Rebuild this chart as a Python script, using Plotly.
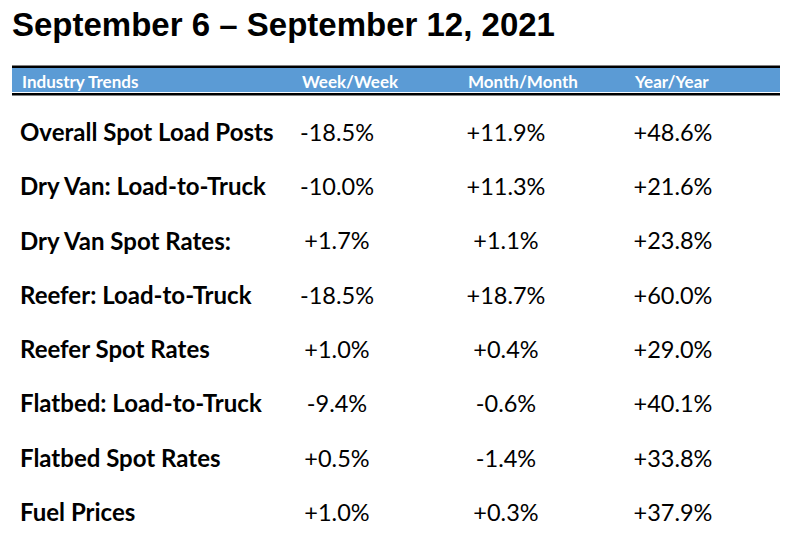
import plotly.graph_objects as go

TITLE = "September 6 – September 12, 2021"
HEADERS = ["Industry Trends", "Week/Week", "Month/Month", "Year/Year"]
LABELS = ["Overall Spot Load Posts", "Dry Van: Load-to-Truck", "Dry Van Spot Rates:",
          "Reefer: Load-to-Truck", "Reefer Spot Rates", "Flatbed: Load-to-Truck",
          "Flatbed Spot Rates", "Fuel Prices"]
WEEK = ["-18.5%", "-10.0%", "+1.7%", "-18.5%", "+1.0%", "-9.4%", "+0.5%", "+1.0%"]
MONTH = ["+11.9%", "+11.3%", "+1.1%", "+18.7%", "+0.4%", "-0.6%", "-1.4%", "+0.3%"]
YEAR = ["+48.6%", "+21.6%", "+23.8%", "+60.0%", "+29.0%", "+40.1%", "+33.8%", "+37.9%"]

W, H = 788, 542
OFF = 8  # page body offset
rows = list(range(len(LABELS)))
FONT = "Lato"

fig = go.Figure()
fig.add_trace(go.Scatter(x=[20 - OFF]*len(rows), y=rows, text=LABELS, mode="text",
                         textposition="middle right",
                         textfont=dict(family=FONT, size=24, color="black", weight="bold")))
for cx, vals in [(337, WEEK), (506, MONTH), (673, YEAR)]:
    fig.add_trace(go.Scatter(x=[cx - OFF]*len(rows), y=rows, text=vals, mode="text",
                             textposition="middle center",
                             textfont=dict(family=FONT, size=23.5, color="black")))

sp = 54.29
y0 = 135 - OFF
fig.update_layout(
    width=W, height=H, margin=dict(l=0, r=0, t=0, b=0),
    plot_bgcolor="white", paper_bgcolor="white", showlegend=False,
    xaxis=dict(range=[0, W], visible=False, fixedrange=True),
    yaxis=dict(range=[(H - y0)/sp, -y0/sp], visible=False, fixedrange=True),
)
def px(p):
    return (p - OFF) / W
def py(p):
    return 1 - (p - OFF) / H
fig.add_shape(type="rect", xref="paper", yref="paper", x0=px(12), x1=px(782),
              y0=py(92), y1=py(68), fillcolor="#5b9bd5", line_width=0, layer="below")
fig.add_shape(type="rect", xref="paper", yref="paper", x0=px(12), x1=px(782),
              y0=py(68), y1=py(65.5), fillcolor="black", line_width=0)
fig.add_shape(type="rect", xref="paper", yref="paper", x0=px(12), x1=px(782),
              y0=py(95.5), y1=py(93), fillcolor="black", line_width=0)
for hx, h in zip([20, 300, 466, 632], HEADERS):
    fig.add_annotation(x=px(hx), y=py(81), xref="paper", yref="paper", text=h,
                       showarrow=False, xanchor="left", yanchor="middle",
                       font=dict(family=FONT, size=17, color="white", weight="bold"))
fig.add_annotation(x=px(10), y=py(24), xref="paper", yref="paper", text=TITLE,
                   showarrow=False, xanchor="left", yanchor="middle",
                   font=dict(family="Liberation Sans", size=33, color="black", weight="bold"))
fig.write_html("out.html")
